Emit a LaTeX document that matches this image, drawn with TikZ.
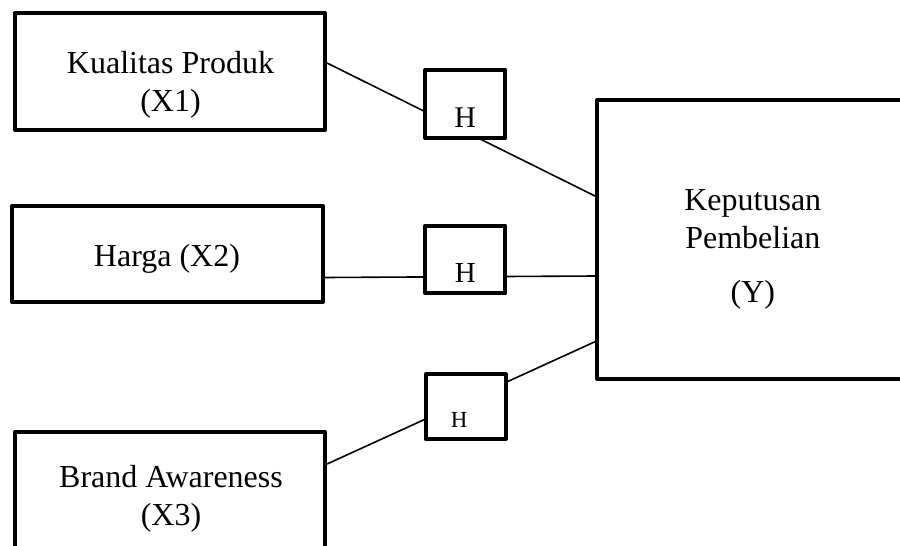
\documentclass[tikz,border=0pt]{standalone}
\usepackage{fontspec}
\setmainfont{Liberation Serif}
\begin{document}
\begin{tikzpicture}[x=1pt,y=-1pt,
  box/.style={draw, line width=4pt, line join=round, inner sep=0pt, fill=white},
  hbox/.style={draw, line width=4pt, line join=round, inner sep=0pt, fill=white, minimum width=80pt},
  txt/.style={align=center, inner sep=0pt, font=\fontsize{32}{38}\selectfont, anchor=north},
  link/.style={line width=1.6pt}]
\useasboundingbox (0,0) rectangle (900,546);
% variable boxes
\node[box, minimum width=310pt, minimum height=117pt] (x1) at (170,71.5) {};
\node[box, minimum width=311pt, minimum height=96pt] (x2) at (167.5,254) {};
\node[box, minimum width=310pt, minimum height=140pt] (x3) at (170,501.5) {};
\node[box, minimum width=310pt, minimum height=279pt] (y) at (752,239.5) {};
% texts
\node[txt] (x1t) at (170.5,51) {Kualitas Produk\\(X1)};
\node[txt] (x2t) at (167,244) {Harga (X2)};
\node[txt] (x3t) at (171,465) {Brand Awareness\\(X3)};
\node[txt] (yt) at (752.8,189) {Keputusan\\Pembelian\\[16pt](Y)};
% connectors
\draw[link] ([yshift=8.5pt]x1.east) -- ([yshift=43.5pt]y.west);
\draw[link] ([yshift=-23.5pt]x2.east) -- ([yshift=-36.5pt]y.west);
\draw[link] ([yshift=37.5pt]x3.east) -- ([yshift=-102.2pt]y.west);
% hypothesis boxes
\node[hbox, minimum height=68pt] (h1) at (465.3,104)
  {\raisebox{-23.3pt}[0pt][0pt]{\fontsize{30}{36}\selectfont H}};
\node[hbox, minimum height=67.6pt] (h2) at (465.3,259.5)
  {\raisebox{-22.8pt}[0pt][0pt]{\fontsize{29}{36}\selectfont H}};
\node[hbox, minimum height=64.7pt, minimum width=80.3pt] (h3) at (465.8,406.7)
  {\raisebox{-21pt}[0pt][0pt]{\fontsize{23}{28}\selectfont\kern-6.5pt H\kern6.5pt}};
\end{tikzpicture}
\end{document}
